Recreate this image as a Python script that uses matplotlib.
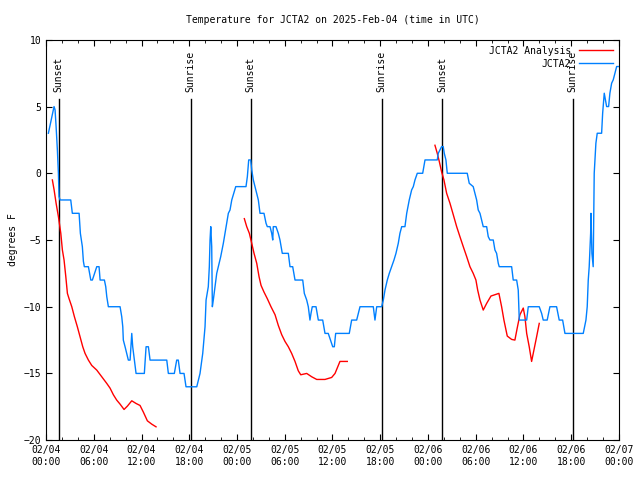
import numpy as np
import pandas as pd
import matplotlib
matplotlib.use("Agg")
import matplotlib.pyplot as plt
import matplotlib.dates as mdates

plt.rcParams['font.family'] = ['DejaVu Sans Mono']
plt.rcParams['font.size'] = 7

# observed temperature (hours since 2025-02-04 00:00 UTC, deg F)
obs_hours = [0.29, 1.0, 1.13, 1.26, 1.42, 1.55, 1.63, 1.76, 3.1, 3.3, 4.15, 4.31, 4.56, 4.69, 4.81,
             5.32, 5.62, 5.82, 6.37, 6.66, 6.79, 7.33, 7.5, 7.63, 7.83, 9.3, 9.51, 9.64, 9.71, 9.93,
             10.34, 10.56, 10.77, 10.89, 11.31, 12.35, 12.57, 12.86, 13.07, 15.17, 15.37, 16.12, 16.42,
             16.62, 16.84, 17.34, 17.59, 18.94, 19.35, 19.69, 19.98, 20.11, 20.39, 20.52, 20.61, 20.7,
             20.82, 20.9, 21.02, 21.24, 21.45, 21.65, 21.95, 22.28, 22.49, 22.71, 22.91, 23.12, 23.34,
             23.54, 23.84, 25.13, 25.3, 25.47, 25.72, 25.85, 26.05, 26.26, 26.48, 26.68, 26.89, 27.39,
             27.65, 27.81, 28.15, 28.36, 28.49, 28.56, 28.9, 29.19, 29.4, 29.69, 30.45, 30.66, 31.0,
             31.29, 32.26, 32.46, 32.76, 32.96, 33.17, 33.3, 33.46, 33.93, 34.22, 34.77, 35.06, 35.47,
             35.9, 36.03, 36.23, 36.4, 38.11, 38.41, 39.04, 39.46, 41.13, 41.34, 41.56, 42.18, 42.39,
             42.6, 42.89, 43.14, 43.44, 43.73, 43.98, 44.27, 44.48, 44.7, 45.11, 45.33, 45.65, 45.95,
             46.16, 46.37, 46.66, 47.34, 47.63, 49.17, 49.3, 49.72, 49.92, 50.05, 50.26, 50.43, 52.94,
             53.19, 53.69, 53.91, 54.12, 54.32, 54.54, 54.75, 54.95, 55.38, 55.58, 55.79, 56.21, 56.42,
             56.63, 56.84, 56.96, 58.52, 58.72, 59.15, 59.35, 59.48, 60.41, 60.61, 61.99, 62.29, 62.49,
             62.99, 63.33, 64.17, 64.5, 64.93, 65.22, 67.52, 67.86, 68.02, 68.15, 68.27, 68.45, 68.49,
             68.52, 68.61, 68.77, 68.9, 69.11, 69.28, 69.83, 69.96, 70.16, 70.46, 70.71, 70.87, 71.09,
             71.29, 71.5, 71.72, 71.92]
obs_temp = [3.0, 5.0, 4.75, 3.5, 1.75, 0, -1.75, -2, -2, -3, -3, -4.5, -5.5, -6.6, -7,
            -7, -8, -8, -7, -7, -8, -8, -8.5, -9.25, -10, -10, -10.75, -11.5, -12.5, -13,
            -14, -14, -12, -13, -15, -15, -13, -13, -14, -14, -15, -15, -14,
            -14, -15, -15, -16, -16, -15, -13.5, -11.5, -9.5, -8.5, -7, -5, -4,
            -5.5, -10, -9.5, -8.5, -7.5, -7, -6.25, -5.25, -4.5, -3.75, -3, -2.75, -2,
            -1.6, -1, -1, -0.25, 1.0, 1.0, 0.25, -0.5, -1, -1.5, -2, -3, -3,
            -3.75, -4, -4, -4.5, -5, -4, -4, -4.5, -5, -6, -6, -7, -7,
            -8, -8, -9, -9.5, -10, -11, -10.5, -10, -10, -11, -11, -12, -12,
            -12.75, -13, -13, -12, -12, -11, -11, -10, -10, -11, -10, -10, -9.5,
            -8.75, -8, -7.5, -7, -6.5, -6, -5.25, -4.5, -4, -4, -3, -2, -1.25,
            -1, -0.5, 0, 0, 1.0, 1.0, 1.5, 2, 2, 1.5, 1, 0, 0,
            -0.75, -1, -1.5, -2, -2.75, -3, -3.5, -4, -4, -4.75, -5, -5, -5.75,
            -6, -6.75, -7, -7, -8, -8, -8.75, -11, -11, -10, -10, -10.5, -11,
            -11, -10, -10, -11, -11, -12, -12, -11, -10, -8, -7, -4.5, -3,
            -3.75, -6, -7, 0, 2.25, 3, 3, 4.5, 6, 5, 5, 6, 6.75,
            7, 7.5, 8, 8]

# analysis temperature, one segment per day
ana_hours_1 = [0.79, 1.01, 1.26, 1.55, 1.85, 2.05, 2.26, 2.48, 2.68, 2.89, 3.23, 3.56, 3.93, 4.27,
               4.61, 4.9, 5.32, 5.74, 6.37, 7.0, 7.63, 8.04, 8.46, 8.88, 9.3, 9.8, 10.22, 10.77,
               11.31, 11.81, 12.23, 12.73, 13.28, 13.82]
ana_temp_1 = [-0.5, -1.25, -2.25, -3.25, -4.5, -5.75, -6.5, -7.75, -9, -9.4, -10, -10.75, -11.5, -12.25,
              -13, -13.5, -14, -14.4, -14.75, -15.25, -15.75, -16.1, -16.6, -17, -17.3, -17.7, -17.45, -17.05,
              -17.25, -17.4, -17.9, -18.55, -18.8, -19]
ana_hours_2 = [24.92, 25.22, 25.55, 25.85, 26.14, 26.48, 26.77, 27.02, 27.39, 27.81, 28.27, 28.78, 29.19,
               29.62, 30.03, 30.45, 30.87, 31.29, 31.7, 32.01, 32.76, 33.39, 34.02, 35.06, 35.9, 36.32,
               36.94, 37.86]
ana_temp_2 = [-3.4, -4, -4.5, -5.25, -6, -6.75, -7.75, -8.4, -8.9, -9.4, -10, -10.6, -11.4,
              -12.1, -12.6, -13, -13.5, -14.1, -14.8, -15.1, -15, -15.25, -15.45, -15.45, -15.3, -15,
              -14.1, -14.1]
ana_hours_3 = [48.88, 49.17, 49.42, 49.72, 50.01, 50.35, 50.77, 51.18, 51.61, 52.02, 52.44, 52.87, 53.28,
               53.69, 54.03, 54.25, 54.54, 54.95, 55.38, 55.92, 56.42, 56.92, 57.26, 57.55, 57.97, 58.52,
               58.93, 59.22, 59.56, 59.98, 60.19, 60.41, 60.73, 61.03, 61.32, 61.66, 61.99]
ana_temp_3 = [2.1, 1.5, 0.9, 0.1, -0.5, -1.5, -2.25, -3.1, -4, -4.75, -5.5, -6.25, -7,
              -7.5, -8, -8.75, -9.5, -10.25, -9.75, -9.2, -9.1, -9, -10, -11, -12.2, -12.45,
              -12.5, -11.6, -10.6, -10.1, -10.75, -12, -13, -14.1, -13.25, -12.25, -11.25]

# sun events (hours since start)
sun_hours = [1.6, 18.2, 25.7, 42.2, 49.8, 66.2]
sun_labels = ["Sunset", "Sunrise", "Sunset", "Sunrise", "Sunset", "Sunrise"]

start = pd.Timestamp("2025-02-04 00:00")


def to_time(hours):
    return start + pd.to_timedelta(np.array(hours), unit="h")


fig = plt.figure(figsize=(6.4, 4.8), dpi=100)
ax = fig.add_axes([0.072, 0.083, 0.895, 0.834])

for h, lab in zip(sun_hours, sun_labels):
    t = to_time([h])[0]
    ax.plot([t, t], [-20, 5.6], color="black", lw=1)
    ax.text(t, 6.1, lab, rotation=90, ha="center", va="bottom", fontsize=7)

red = "#ff0000"
blue = "#0080ff"
ax.plot(to_time(ana_hours_1), ana_temp_1, color=red, lw=1, label="JCTA2 Analysis")
ax.plot(to_time(ana_hours_2), ana_temp_2, color=red, lw=1)
ax.plot(to_time(ana_hours_3), ana_temp_3, color=red, lw=1)
ax.plot(to_time(obs_hours), obs_temp, color=blue, lw=1, label="JCTA2")

ax.set_xlim(start, start + pd.Timedelta(hours=72))
ax.set_ylim(-20, 10)
ax.set_yticks(np.arange(-20, 11, 5))
ax.xaxis.set_major_locator(mdates.HourLocator(byhour=[0, 6, 12, 18]))
ax.xaxis.set_minor_locator(mdates.HourLocator(interval=2))
ax.xaxis.set_major_formatter(mdates.DateFormatter("%m/%d\n%H:%M"))
ax.tick_params(which="both", direction="in", top=True, right=True, labelsize=7)
ax.tick_params(which="major", length=4)
ax.tick_params(which="minor", length=2)

ax.set_title("Temperature for JCTA2 on 2025-Feb-04 (time in UTC)", fontsize=7, pad=12)
ax.set_ylabel("degrees F", fontsize=7)

ax.legend(loc="upper right", frameon=False, markerfirst=False, handlelength=3.5,
          fontsize=7, borderaxespad=0.2, labelspacing=0.3)

plt.savefig("out.png", dpi=100)
